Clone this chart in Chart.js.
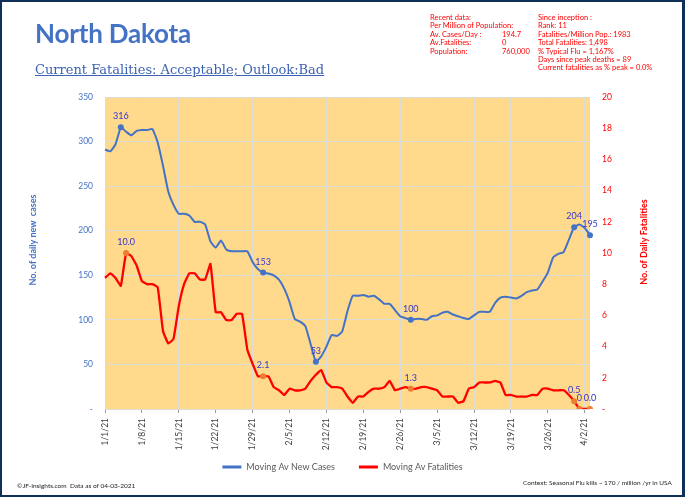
<!DOCTYPE html>
<html>
<head>
<meta charset="utf-8">
<script src="https://cdn.jsdelivr.net/npm/chart.js@4.4.1/dist/chart.umd.min.js"></script>
<style>
  body { margin: 0; background: #fff; }
  #wrap { position: relative; width: 685px; height: 497px; overflow: hidden; font-family: Lato, "Open Sans", sans-serif; }
  #chart { position: absolute; left: 0; top: 0; }
  #frame { position: absolute; left: 0; top: 0; width: 685px; height: 497px; box-sizing: border-box;
           border: 2px solid #112f57; border-right-width: 3px; pointer-events: none; }
  .txt { position: absolute; white-space: pre; }
  #title { left: 35px; top: 20px; font: bold 26px/26px Lato, sans-serif; color: #4472c4; letter-spacing: -0.2px; }
  #sub { left: 35px; top: 63px; font: 13px/13px "DejaVu Serif", serif; color: #3d62b3; text-decoration: underline; }
  .info { font: 7.5px/8.4px Lato, sans-serif; color: #ff0000; }
  .foot { font: 6.5px/8px Lato, sans-serif; color: #222; }
</style>
</head>
<body>
<div id="wrap">
  <canvas id="chart" width="685" height="497"></canvas>
  <div class="txt" id="title">North Dakota</div>
  <div class="txt" id="sub">Current Fatalities: Acceptable; Outlook:Bad</div>
  <div class="txt info" style="left:430px; top:14px;">Recent data:
Per Million of Population:
Av. Cases/Day :
Av.Fatalities:
Population:</div>
  <div class="txt info" style="left:502px; top:14px;">

194.7
0
760,000</div>
  <div class="txt info" style="left:538px; top:14px;">Since inception :
Rank: 11
Fatalities/Million Pop.: 1983
Total Fatalities: 1,498
% Typical Flu = 1,167%
Days since peak deaths = 89
Current fatalities as % peak = 0.0%</div>
  <div class="txt foot" style="left:17px; top:482px;">©JF-Insights.com  Data as of 04-03-2021</div>
  <div class="txt foot" style="left:523px; top:479px;">Context: Seasonal Flu kills ~ 170 / million /yr in USA</div>
  <div id="frame"></div>
</div>
<script>
// categories: 1/1/21 .. 4/3/21
var monthDays = [31, 28, 31, 3];
var dates = [];
monthDays.forEach(function (n, m) {
  for (var d = 1; d <= n; d++) dates.push((m + 1) + '/' + d + '/21');
});

// moving average new cases (left axis)
var cases = [291, 289, 297, 316, 311, 307, 312, 313, 313, 314,
             299, 273, 244, 229, 219, 219, 217, 210, 210, 207,
             188, 181, 189, 179, 177, 177, 177, 177, 165, 157,
             153, 152, 150, 145, 135, 120, 101, 98, 93, 73,
             53, 59, 70, 83, 82, 87, 110, 127, 127, 128,
             126, 127, 123, 118, 118, 111, 104, 102, 100, 101,
             101, 100, 104, 105, 108, 109, 106, 104, 102, 101,
             105, 109, 109, 109, 119, 125, 126, 125, 124, 127,
             131, 133, 134, 143, 153, 170, 174, 176, 190, 204,
             207, 203, 195];

// moving average fatalities (right axis)
var deaths = [8.4, 8.7, 8.4, 7.9, 10.0, 9.8, 9.2, 8.2, 8.0, 8.0,
              7.8, 5.0, 4.2, 4.5, 6.6, 8.0, 8.7, 8.7, 8.3, 8.3,
              9.3, 6.2, 6.2, 5.7, 5.7, 6.1, 6.1, 3.8, 2.9, 2.1,
              2.1, 2.1, 1.4, 1.2, 0.9, 1.3, 1.2, 1.2, 1.3, 1.8,
              2.2, 2.5, 1.7, 1.4, 1.4, 1.3, 0.8, 0.4, 0.8, 0.8,
              1.1, 1.3, 1.3, 1.4, 1.8, 1.2, 1.3, 1.4, 1.3, 1.3,
              1.4, 1.4, 1.3, 1.2, 0.8, 0.8, 0.8, 0.4, 0.5, 1.3,
              1.4, 1.7, 1.7, 1.7, 1.8, 1.7, 0.9, 0.9, 0.8, 0.8,
              0.8, 0.9, 0.9, 1.3, 1.3, 1.2, 1.2, 1.2, 0.9, 0.5,
              0, 0, 0];

// labelled points
var caseMarks = [3, 30, 40, 58, 89, 92];
var caseMarkText = ['316', '153', '53', '100', '204', '195'];
var deathMarks = [4, 30, 58, 89, 90, 92];
var deathMarkText = ['10.0', '2.1', '1.3', '0.5', '0', '0.0'];

var blue = '#4472c4';
var red = '#ff0000';
var orange = '#ed7d31';
var labelBlue = '#3434d2';
var plotFill = '#ffda8c';
var gridColor = '#dcdcd6';

var decor = {
  id: 'decor',
  beforeDraw: function (chart) {
    var ctx = chart.ctx, a = chart.chartArea;
    ctx.save();
    ctx.fillStyle = plotFill;
    ctx.fillRect(a.left, a.top, a.right - a.left, a.bottom - a.top);
    ctx.restore();
  },
  afterDatasetsDraw: function (chart) {
    var ctx = chart.ctx;
    ctx.save();
    ctx.font = '9px Lato, sans-serif';
    ctx.fillStyle = labelBlue;
    ctx.textAlign = 'center';
    ctx.textBaseline = 'middle';
    var sets = [[0, caseMarks, caseMarkText], [1, deathMarks, deathMarkText]];
    sets.forEach(function (s) {
      var meta = chart.getDatasetMeta(s[0]);
      s[1].forEach(function (idx, k) {
        var pt = meta.data[idx];
        ctx.fillText(s[2][k], pt.x, pt.y - 11);
      });
    });
    ctx.restore();
  },
  afterDraw: function (chart) {
    var ctx = chart.ctx;
    // axis titles, both reading bottom to top
    [['No. of daily new  cases', 33, 240, blue], ['No. of Daily Fatalities', 644, 242, red]].forEach(function (t) {
      ctx.save();
      ctx.font = 'bold 9px Lato, sans-serif';
      ctx.textAlign = 'center';
      ctx.textBaseline = 'middle';
      ctx.translate(t[1], t[2]);
      ctx.rotate(-Math.PI / 2);
      ctx.fillStyle = t[3];
      ctx.fillText(t[0], 0, 0);
      ctx.restore();
    });
    // legend
    ctx.save();
    ctx.font = '9px Lato, sans-serif';
    ctx.textBaseline = 'middle';
    ctx.textAlign = 'left';
    var sw = 19, gap = 5, between = 24, ly = 467;
    var sets = chart.data.datasets;
    var widths = sets.map(function (d) { return sw + gap + ctx.measureText(d.label).width; });
    var total = widths.reduce(function (a, b) { return a + b; }, 0) + between * (sets.length - 1);
    var x = chart.width / 2 - total / 2;
    sets.forEach(function (d, i) {
      ctx.fillStyle = d.borderColor;
      ctx.fillRect(x, ly - 1.5, sw, 3);
      ctx.fillStyle = '#595959';
      ctx.fillText(d.label, x + sw + gap, ly);
      x += widths[i] + between;
    });
    ctx.restore();
  }
};

function markRadius(marks) {
  return function (c) { return marks.indexOf(c.dataIndex) >= 0 ? 3 : 0; };
}

var myChart = new Chart(document.getElementById('chart'), {
  type: 'line',
  data: {
    labels: dates,
    datasets: [{
      label: 'Moving Av New Cases',
      data: cases,
      yAxisID: 'y',
      borderColor: blue,
      backgroundColor: blue,
      borderWidth: 2,
      tension: 0.15,
      pointRadius: markRadius(caseMarks),
      pointBackgroundColor: blue,
      pointBorderWidth: 0
    }, {
      label: 'Moving Av Fatalities',
      data: deaths,
      yAxisID: 'y1',
      borderColor: red,
      backgroundColor: red,
      borderWidth: 2.3,
      tension: 0.1,
      pointRadius: markRadius(deathMarks),
      pointBackgroundColor: orange,
      pointBorderWidth: 0
    }]
  },
  options: {
    responsive: false,
    animation: false,
    layout: { padding: { top: 97, left: 0, right: 0, bottom: 44 } },
    plugins: {
      tooltip: { enabled: false },
      legend: { display: false }
    },
    scales: {
      x: {
        afterFit: function (s) { s.height = 44; },
        border: { display: false },
        grid: {
          drawTicks: true,
          tickLength: 4,
          color: function (c) { return c.index % 7 === 0 ? gridColor : 'rgba(0,0,0,0)'; },
          tickColor: function (c) { return c.index % 7 === 0 ? '#9a9a9a' : 'rgba(0,0,0,0)'; }
        },
        ticks: {
          autoSkip: false,
          minRotation: 90,
          maxRotation: 90,
          padding: 5,
          color: '#404040',
          font: { family: 'Lato, sans-serif', size: 8.5 },
          callback: function (v, i) { return i % 7 === 0 ? dates[i] : ''; }
        }
      },
      y: {
        position: 'left',
        min: 0,
        max: 350,
        afterFit: function (s) { s.width = 105; },
        border: { display: false },
        grid: { drawTicks: false, color: gridColor },
        ticks: {
          stepSize: 50,
          padding: 12,
          color: blue,
          font: { family: 'Lato, sans-serif', size: 8.5 },
          callback: function (v) { return v === 0 ? '-' : v; }
        }
      },
      y1: {
        position: 'right',
        min: 0,
        max: 20,
        afterFit: function (s) { s.width = 95; },
        border: { display: false },
        grid: { drawTicks: false, drawOnChartArea: false },
        ticks: {
          stepSize: 2,
          padding: 12,
          color: red,
          font: { family: 'Lato, sans-serif', size: 8.5 },
          callback: function (v) { return v === 0 ? '-' : v; }
        }
      }
    }
  },
  plugins: [decor]
});
</script>
</body>
</html>
